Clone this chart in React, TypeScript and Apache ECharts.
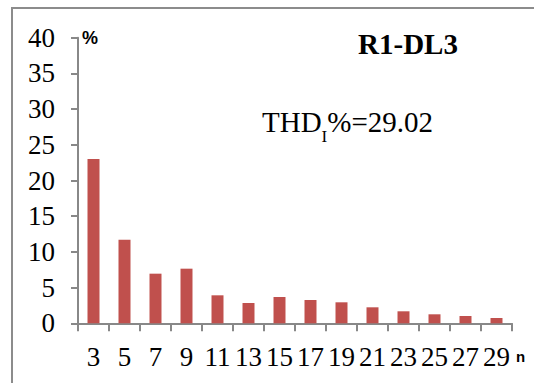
import React, { useEffect, useRef } from "react";
import * as echarts from "echarts";

const categories = ["3", "5", "7", "9", "11", "13", "15", "17", "19", "21", "23", "25", "27", "29"];
const values = [23.0, 11.7, 6.95, 7.65, 3.92, 2.84, 3.68, 3.26, 2.94, 2.24, 1.68, 1.26, 1.02, 0.74];
const yTicks = { min: 0, max: 40, interval: 5 };
const title = "R1-DL3";
const thdValue = "29.02";

export default function App() {
  const ref = useRef<HTMLDivElement>(null);
  useEffect(() => {
    if (!ref.current) return;
    const chart = echarts.init(ref.current, null, { renderer: "svg" });
    const serif = "Liberation Serif";
    const sans = "Liberation Sans";
    chart.setOption({
      animation: false,
      backgroundColor: "#ffffff",
      textStyle: { fontFamily: serif },
      grid: { left: 78, right: 22, top: 37.7, bottom: 383 - 323.3, containLabel: false },
      xAxis: {
        type: "category",
        data: categories,
        boundaryGap: true,
        name: "n",
        nameLocation: "end",
        nameGap: 0,
        nameTextStyle: {
          fontFamily: sans,
          fontWeight: "bold",
          fontSize: 15,
          color: "#000",
          align: "left",
          verticalAlign: "top",
          padding: [26, 0, 0, 1],
        },
        axisLine: { lineStyle: { color: "#888888", width: 2 } },
        axisTick: { show: true, length: 8, lineStyle: { color: "#888888", width: 2 } },
        axisLabel: {
          interval: 0,
          margin: 20,
          fontFamily: serif,
          fontSize: 27,
          color: "#000",
        },
      },
      yAxis: {
        type: "value",
        min: yTicks.min,
        max: yTicks.max,
        interval: yTicks.interval,
        name: "%",
        nameLocation: "end",
        nameGap: 0,
        nameTextStyle: {
          fontFamily: sans,
          fontWeight: "bold",
          fontSize: 18,
          color: "#000",
          align: "left",
          verticalAlign: "middle",
          padding: [0, 0, 0, 4],
        },
        splitLine: { show: false },
        axisLine: { show: true, lineStyle: { color: "#888888", width: 2 } },
        axisTick: { show: true, length: 7, lineStyle: { color: "#888888", width: 2 } },
        axisLabel: {
          margin: 23,
          fontFamily: serif,
          fontSize: 27,
          color: "#000",
        },
      },
      series: [
        {
          type: "bar",
          data: values,
          barWidth: 12,
          itemStyle: { color: "#C0504D" },
        },
      ],
      graphic: [
        {
          type: "rect",
          shape: { x: 12, y: 8, width: 600, height: 500 },
          style: { fill: "none", stroke: "#8c8c8c", lineWidth: 2 },
          silent: true,
        },
        {
          type: "text",
          x: 408,
          y: 44,
          style: {
            text: title,
            fontFamily: serif,
            fontWeight: "bold",
            fontSize: 29,
            fill: "#000",
            align: "center",
            verticalAlign: "middle",
          },
        },
        {
          type: "text",
          x: 262,
          y: 122,
          style: {
            text: "{a|THD}{b|I}{c|%=" + thdValue + "}",
            fontFamily: serif,
            fontSize: 29,
            fill: "#000",
            align: "left",
            verticalAlign: "middle",
            rich: {
              a: { fontFamily: serif, fontSize: 29, lineHeight: 46, verticalAlign: "middle" },
              b: { fontFamily: serif, fontSize: 17, lineHeight: 17, verticalAlign: "bottom" },
              c: { fontFamily: serif, fontSize: 29, lineHeight: 46, verticalAlign: "middle" },
            },
          },
        },
      ],
    });
    return () => chart.dispose();
  }, []);
  return <div ref={ref} style={{ position: "fixed", left: 0, top: 0, width: 534, height: 383 }} />;
}
